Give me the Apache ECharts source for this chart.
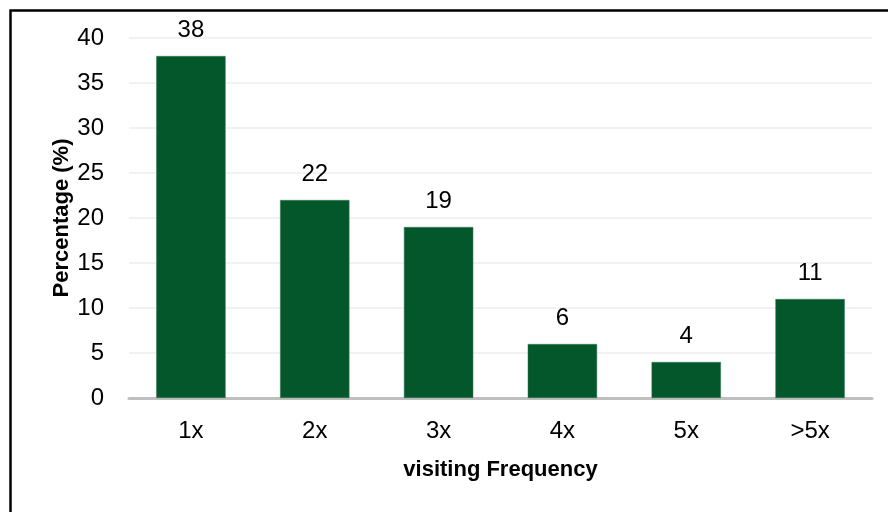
<!DOCTYPE html>
<html>
<head>
<meta charset="utf-8">
<script src="https://cdn.jsdelivr.net/npm/echarts@6/dist/echarts.min.js"></script>
<style>
  html, body { margin: 0; padding: 0; background: #ffffff; }
  #chart { width: 888px; height: 512px; }
</style>
</head>
<body>
<div id="chart"></div>
<script>
// Visit frequency categories and their share of respondents (%)
const categories = ['1x', '2x', '3x', '4x', '5x', '>5x'];
const percentages = [38, 22, 19, 6, 4, 11];
const yTicks = { min: 0, max: 40, interval: 5 };

const textFont = '"Liberation Sans", Arial, Helvetica, sans-serif';
const barColor = '#03572a';

const chart = echarts.init(document.getElementById('chart'), null, { renderer: 'canvas' });

chart.setOption({
  animation: false,
  backgroundColor: '#ffffff',
  // frame line along the top and left edges
  graphic: [{
    type: 'rect',
    left: 8,
    top: 8,
    shape: { width: 1000, height: 600 },
    style: { fill: 'none', stroke: '#000000', lineWidth: 2.5 },
    silent: true
  }],
  grid: { left: 129, right: 16, top: 38, bottom: 114, containLabel: false },
  xAxis: {
    type: 'category',
    data: categories,
    axisTick: { show: false },
    axisLine: { lineStyle: { color: '#bfbfbf', width: 3 } },
    axisLabel: { color: '#000000', fontSize: 24, fontFamily: textFont, margin: 21 },
    name: 'visiting Frequency',
    nameLocation: 'middle',
    nameGap: 61,
    nameMoveOverlap: false,
    nameTextStyle: { color: '#000000', fontSize: 22, fontWeight: 'bold', fontFamily: textFont }
  },
  yAxis: {
    type: 'value',
    min: yTicks.min,
    max: yTicks.max,
    interval: yTicks.interval,
    axisLine: { show: false },
    axisTick: { show: false },
    splitLine: { lineStyle: { color: '#eeeeee', width: 1.5 } },
    axisLabel: { color: '#000000', fontSize: 24, fontFamily: textFont, margin: 25 },
    name: 'Percentage (%)',
    nameLocation: 'middle',
    nameGap: 56,
    nameMoveOverlap: false,
    nameRotate: 90,
    nameTextStyle: { color: '#000000', fontSize: 22, fontWeight: 'bold', fontFamily: textFont }
  },
  series: [{
    type: 'bar',
    data: percentages,
    barWidth: '56%',
    itemStyle: { color: barColor, borderColor: '#3d7a57', borderWidth: 0.5 },
    label: {
      show: true,
      position: 'top',
      distance: 14,
      color: '#000000',
      fontSize: 24,
      fontFamily: textFont
    }
  }]
});
</script>
</body>
</html>
